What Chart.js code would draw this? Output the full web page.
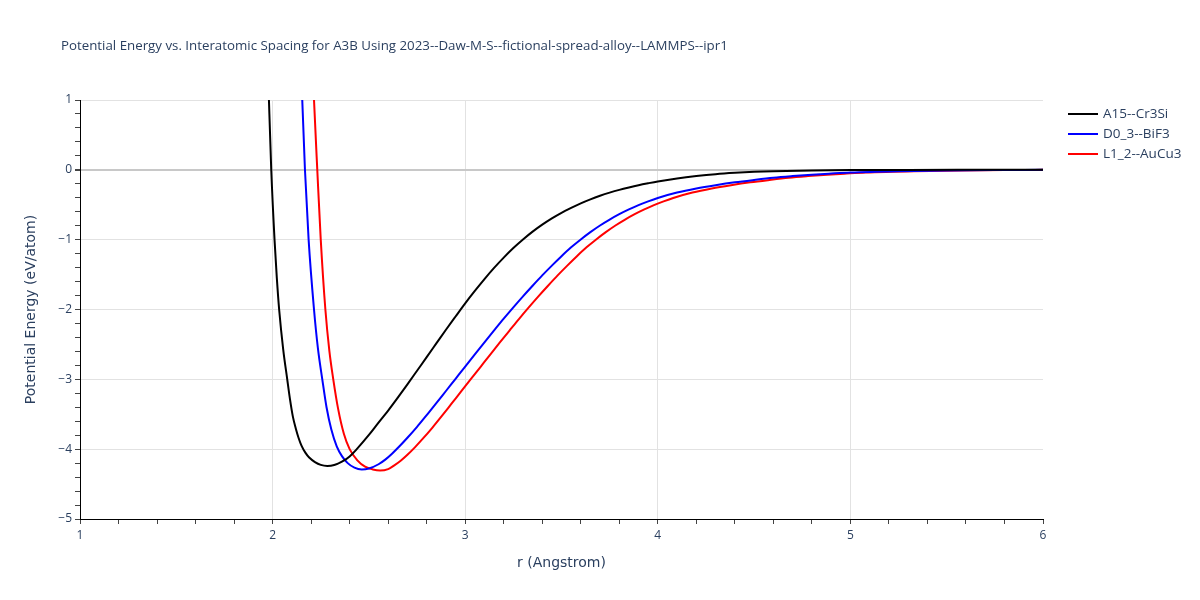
<!DOCTYPE html>
<html>
<head>
<meta charset="utf-8">
<script src="https://cdn.jsdelivr.net/npm/chart.js@4.4.1/dist/chart.umd.min.js"></script>
<style>
  html, body { margin: 0; padding: 0; background: #ffffff; }
  #wrap { position: relative; width: 1200px; height: 600px; }
</style>
</head>
<body>
<div id="wrap"><canvas id="c" width="1200" height="600"></canvas></div>
<script>
const chartTitle = "Potential Energy vs. Interatomic Spacing for A3B Using 2023--Daw-M-S--fictional-spread-alloy--LAMMPS--ipr1";
const xTitle = "r (Angstrom)";
const yTitle = "Potential Energy (eV/atom)";
const seriesNames = ["A15--Cr3Si", "D0_3--BiF3", "L1_2--AuCu3"];
const seriesColors = ["#000000", "#0000ff", "#ff0000"];

const rA15 = [1.970, 1.981, 1.993, 2.010, 2.022, 2.034, 2.055, 2.076, 2.090, 2.105, 2.120, 2.135, 2.150, 2.170, 2.190, 2.220, 2.250, 2.284, 2.320, 2.360, 2.400, 2.437, 2.500, 2.550, 2.600, 2.650, 2.700, 2.750, 2.800, 2.850, 2.900, 2.950, 3.000, 3.050, 3.100, 3.150, 3.200, 3.250, 3.300, 3.350, 3.400, 3.450, 3.500, 3.550, 3.600, 3.650, 3.700, 3.750, 3.800, 3.850, 3.900, 3.950, 4.000, 4.100, 4.200, 4.300, 4.400, 4.500, 4.600, 4.800, 5.000, 5.300, 5.600, 6.000];
const eA15 = [2.0, 1.0, 0.0, -1.0, -1.55, -2.0, -2.57, -3.0, -3.28, -3.53, -3.70, -3.84, -3.95, -4.05, -4.12, -4.185, -4.225, -4.24, -4.227, -4.18, -4.104, -4.0, -3.797, -3.62, -3.447, -3.262, -3.072, -2.877, -2.682, -2.486, -2.29, -2.1, -1.912, -1.735, -1.565, -1.405, -1.257, -1.12, -0.997, -0.885, -0.785, -0.695, -0.615, -0.545, -0.48, -0.423, -0.372, -0.327, -0.287, -0.252, -0.22, -0.192, -0.166, -0.123, -0.089, -0.062, -0.043, -0.029, -0.019, -0.008, -0.003, -0.001, -0.0003, 0.0];

const rD03 = [2.145, 2.154, 2.168, 2.187, 2.215, 2.235, 2.258, 2.280, 2.305, 2.333, 2.360, 2.390, 2.425, 2.463, 2.500, 2.550, 2.585, 2.620, 2.660, 2.700, 2.750, 2.800, 2.850, 2.900, 2.950, 3.000, 3.050, 3.100, 3.150, 3.200, 3.250, 3.300, 3.350, 3.400, 3.450, 3.500, 3.550, 3.600, 3.650, 3.700, 3.750, 3.800, 3.850, 3.900, 3.950, 4.000, 4.100, 4.200, 4.300, 4.400, 4.500, 4.600, 4.700, 4.800, 4.900, 5.000, 5.250, 5.500, 5.750, 6.000];
const eD03 = [1.75, 1.0, 0.0, -1.0, -2.0, -2.55, -3.0, -3.4, -3.72, -3.96, -4.1, -4.2, -4.265, -4.29, -4.277, -4.216, -4.15, -4.065, -3.955, -3.837, -3.68, -3.512, -3.342, -3.167, -2.992, -2.817, -2.643, -2.47, -2.3, -2.132, -1.97, -1.812, -1.66, -1.512, -1.372, -1.237, -1.11, -0.997, -0.892, -0.797, -0.712, -0.635, -0.567, -0.505, -0.451, -0.4025, -0.325, -0.267, -0.22, -0.179, -0.145, -0.114, -0.09, -0.069, -0.053, -0.039, -0.02, -0.009, -0.003, 0.0];

const rL12 = [2.205, 2.215, 2.232, 2.250, 2.274, 2.295, 2.315, 2.340, 2.370, 2.400, 2.440, 2.480, 2.520, 2.558, 2.600, 2.630, 2.665, 2.700, 2.740, 2.780, 2.830, 2.880, 2.930, 2.980, 3.030, 3.080, 3.130, 3.180, 3.230, 3.280, 3.330, 3.380, 3.430, 3.480, 3.530, 3.580, 3.630, 3.680, 3.730, 3.780, 3.830, 3.880, 3.930, 3.980, 4.030, 4.080, 4.180, 4.280, 4.380, 4.480, 4.580, 4.680, 4.780, 4.880, 4.980, 5.080, 5.330, 5.580, 5.800, 6.000];
const eL12 = [1.7, 1.0, 0.0, -1.0, -2.0, -2.6, -3.0, -3.42, -3.78, -4.0, -4.16, -4.25, -4.29, -4.306, -4.285, -4.235, -4.165, -4.08, -3.97, -3.85, -3.69, -3.52, -3.345, -3.17, -2.995, -2.82, -2.645, -2.472, -2.302, -2.133, -1.97, -1.812, -1.66, -1.512, -1.372, -1.237, -1.11, -0.997, -0.892, -0.797, -0.712, -0.635, -0.567, -0.505, -0.451, -0.4025, -0.325, -0.267, -0.22, -0.179, -0.145, -0.114, -0.09, -0.069, -0.053, -0.039, -0.02, -0.009, -0.003, 0.0];

const xRange = [1, 6];
const yRange = [-5, 1];
const minorStep = 0.2;

const FONT = '"Open Sans", "DejaVu Sans", sans-serif';
const AXFONT = '"DejaVu Sans", "Open Sans", sans-serif';
const TXT = '#2a3f5f';

function pts(rs, es) { return rs.map((r, i) => ({ x: r, y: es[i] })); }
const isInt = v => Math.abs(v - Math.round(v)) < 1e-6;
const fmt = v => { const n = Math.round(v); return n < 0 ? '\u2212' + Math.abs(n) : String(n); };

const allR = [rA15, rD03, rL12];
const allE = [eA15, eD03, eL12];

const datasets = seriesNames.map((name, i) => ({
  label: name,
  data: pts(allR[i], allE[i]),
  borderColor: seriesColors[i],
  backgroundColor: seriesColors[i],
  borderWidth: 2,
  pointRadius: 0,
  fill: false,
  cubicInterpolationMode: 'monotone'
}));

const overlay = {
  id: 'overlay',
  afterDraw(chart) {
    const ctx = chart.ctx;
    ctx.save();
    ctx.fillStyle = TXT;
    ctx.font = '13.3px ' + FONT;
    ctx.textBaseline = 'middle';
    ctx.textAlign = 'left';
    ctx.fillText(chartTitle, 61, 46);
    // legend
    ctx.font = '13.5px ' + FONT;
    const lx = 1068, ly = 114, dy = 20;
    chart.data.datasets.forEach((ds, i) => {
      const y = ly + i * dy;
      ctx.strokeStyle = ds.borderColor;
      ctx.lineWidth = 2;
      ctx.beginPath();
      ctx.moveTo(lx, y);
      ctx.lineTo(lx + 30, y);
      ctx.stroke();
      ctx.fillStyle = TXT;
      ctx.fillText(ds.label, lx + 35, y);
    });
    ctx.restore();
  }
};

new Chart(document.getElementById('c'), {
  type: 'line',
  data: { datasets },
  options: {
    responsive: false,
    animation: false,
    layout: { padding: { top: 100, right: 157, left: 0, bottom: 0 } },
    plugins: { legend: { display: false }, title: { display: false }, tooltip: { enabled: false } },
    scales: {
      x: {
        type: 'linear',
        min: xRange[0], max: xRange[1],
        afterFit: s => { s.height = 81; },
        border: { display: true, color: '#000000', width: 1 },
        grid: {
          color: c => (isInt(c.tick.value) && c.tick.value > xRange[0] && c.tick.value < xRange[1]) ? '#e2e2e2' : 'rgba(0,0,0,0)',
          lineWidth: 1,
          drawTicks: true,
          tickLength: 5,
          tickColor: '#444444'
        },
        ticks: {
          stepSize: minorStep,
          autoSkip: false,
          maxRotation: 0,
          color: TXT,
          font: { family: FONT, size: 12 },
          padding: 4,
          callback: v => isInt(v) ? fmt(v) : ''
        },
        title: { display: true, text: xTitle, color: TXT, font: { family: AXFONT, size: 14 }, padding: { top: 0, bottom: 28 } }
      },
      y: {
        type: 'linear',
        min: yRange[0], max: yRange[1],
        afterFit: s => { s.width = 80; },
        border: { display: true, color: '#000000', width: 1 },
        grid: {
          color: c => {
            const v = c.tick.value;
            if (!isInt(v) || v <= yRange[0]) return 'rgba(0,0,0,0)';
            return Math.abs(v) < 1e-6 ? '#c8c8c8' : '#e2e2e2';
          },
          lineWidth: c => Math.abs(c.tick.value) < 1e-6 ? 2 : 1,
          drawTicks: true,
          tickLength: 5,
          tickColor: '#444444'
        },
        ticks: {
          stepSize: minorStep,
          autoSkip: false,
          color: TXT,
          font: { family: FONT, size: 12 },
          padding: 3,
          callback: v => isInt(v) ? fmt(v) : ''
        },
        title: { display: true, text: yTitle, color: TXT, font: { family: AXFONT, size: 14 }, padding: { top: 23, bottom: 0 } }
      }
    }
  },
  plugins: [overlay]
});
</script>
</body>
</html>
